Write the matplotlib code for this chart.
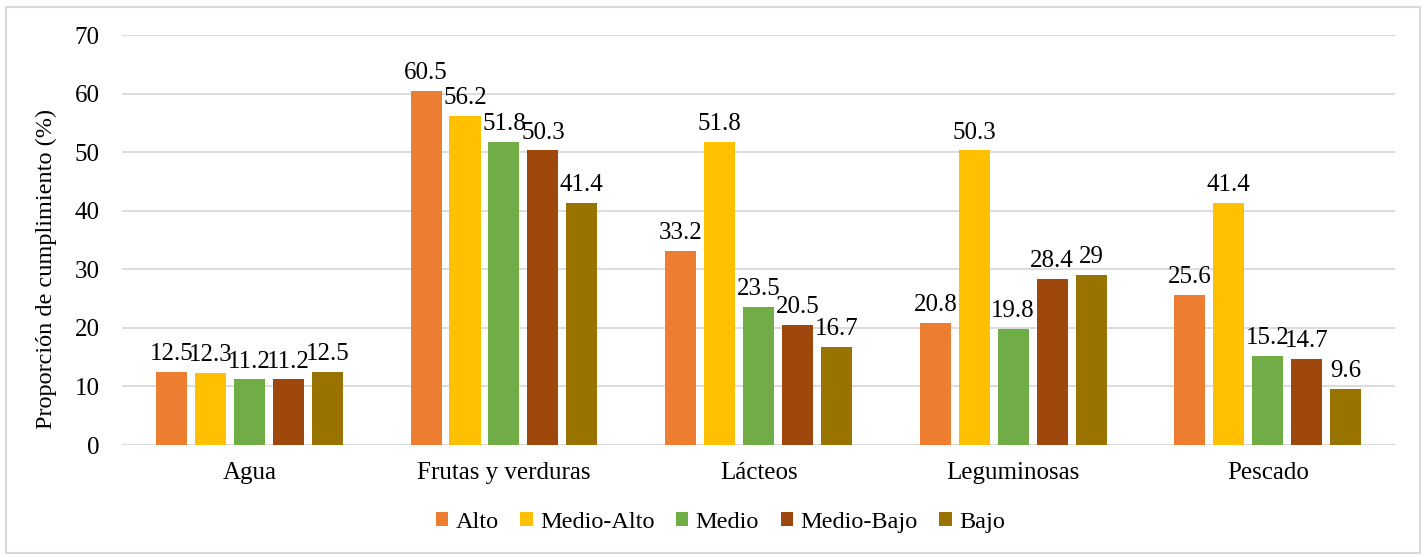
import matplotlib.pyplot as plt
import numpy as np
from matplotlib.patches import Rectangle

plt.rcParams["font.family"] = ["Liberation Serif", "DejaVu Serif"]
plt.rcParams["font.size"] = 18

categories = ["Agua", "Frutas y verduras", "Lácteos", "Leguminosas", "Pescado"]
levels = ["Alto", "Medio-Alto", "Medio", "Medio-Bajo", "Bajo"]

alto = [12.5, 60.5, 33.2, 20.8, 25.6]
medio_alto = [12.3, 56.2, 51.8, 50.3, 41.4]
medio = [11.2, 51.8, 23.5, 19.8, 15.2]
medio_bajo = [11.2, 50.3, 20.5, 28.4, 14.7]
bajo = [12.5, 41.4, 16.7, 29, 9.6]

series = [alto, medio_alto, medio, medio_bajo, bajo]
colors = ["#ED7D31", "#FFC000", "#70AD47", "#9E480E", "#997300"]


def fmt(v):
    return ("%g" % v)


fig = plt.figure(figsize=(14.26, 5.57), dpi=100)
ax = fig.add_axes([0.0856, 0.201, 0.8927, 0.736])

# light frame around the whole figure
fig.patches.append(Rectangle((0.004, 0.008), 0.992, 0.98, transform=fig.transFigure,
                             fill=False, edgecolor="#d9d9d9", linewidth=1.5))

ind = np.arange(len(categories))
step = 0.153
width = 0.122

for i, (vals, name, c) in enumerate(zip(series, levels, colors)):
    x = ind + (i - 2) * step
    bars = ax.bar(x, vals, width, color=c, label=name, zorder=3)
    for b, v in zip(bars, vals):
        ax.annotate(fmt(v), (b.get_x() + b.get_width() / 2, v), xytext=(0, 5),
                    textcoords="offset points", ha="center", va="bottom",
                    fontsize=18, zorder=4)

ax.set_xlim(-0.5, len(categories) - 0.5)
ax.set_ylim(0, 70)
ax.set_yticks(range(0, 71, 10))
ax.set_xticks(ind)
ax.set_xticklabels(categories)
ax.yaxis.grid(True, color="#d9d9d9", linewidth=1.3, zorder=0)
ax.set_axisbelow(True)
ax.tick_params(axis="both", length=0, labelsize=18)
ax.tick_params(axis="y", pad=16)
ax.tick_params(axis="x", pad=12)
for s in ax.spines.values():
    s.set_visible(False)

ax.set_ylabel("Proporción de cumplimiento (%)", fontsize=17.5)
ax.yaxis.set_label_coords(-0.051, 0.43)

ax.legend(loc="center", bbox_to_anchor=(0.47, -0.188), ncol=5, frameon=False,
          fontsize=17.5, handlelength=0.5, handleheight=0.5, handletextpad=0.3,
          columnspacing=0.9)

fig.savefig("out.png", dpi=100)
